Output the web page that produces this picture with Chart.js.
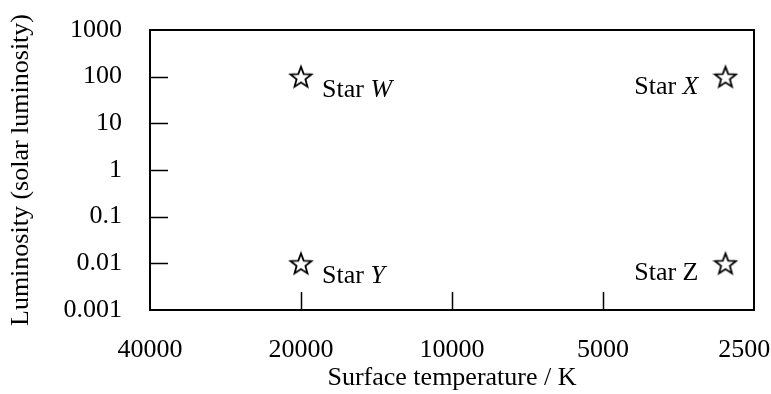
<!DOCTYPE html>
<html lang="en">
<head>
  <meta charset="UTF-8">
  <title>Luminosity vs surface temperature</title>
  <script src="https://cdn.jsdelivr.net/npm/chart.js"></script>
  <style>
    html, body { margin: 0; padding: 0; background: #fff; }
    #wrap { width: 771px; height: 394px; }
  </style>
</head>
<body>
  <div id="wrap"><canvas id="hr" width="771" height="394"></canvas></div>

  <script>
    const starNames = ['W', 'X', 'Y', 'Z'];
    const starItalic = [true, true, true, false];
    const starTemps = [20000, 2850, 20000, 2850];
    const starLums = [100, 100, 0.01, 0.01];

    const tempTicks = [40000, 20000, 10000, 5000, 2500];
    const tempTickLabels = ['40000', '20000', '10000', '5000', '2500'];
    const lumTicks = [0.001, 0.01, 0.1, 1, 10, 100, 1000];
    const lumTickLabels = ['0.001', '0.01', '0.1', '1', '10', '100', '1000'];

    const FONT = "'Liberation Serif', 'Times New Roman', serif";
    const FONT_SIZE = 26;

    // outlined five-pointed star used as the point style
    function starImage(r) {
      const c = document.createElement('canvas');
      const s = Math.ceil(r * 2 + 4);
      c.width = s;
      c.height = s;
      const g = c.getContext('2d');
      const cx = s / 2, cy = s / 2 + r * 0.1;
      g.beginPath();
      for (let i = 0; i < 10; i++) {
        const rad = i % 2 ? r * 0.42 : r;
        const a = -Math.PI / 2 + i * Math.PI / 5;
        g.lineTo(cx + rad * Math.cos(a), cy + rad * Math.sin(a));
      }
      g.closePath();
      g.fillStyle = '#fff';
      g.fill();
      g.lineWidth = 1.8;
      g.strokeStyle = '#000';
      g.stroke();
      return c;
    }

    // box round the plot plus short inward tick marks
    const frame = {
      id: 'frame',
      afterDraw(chart) {
        const { ctx, chartArea: a } = chart;
        const xs = chart.scales.x, ys = chart.scales.y;
        ctx.save();
        ctx.strokeStyle = '#000';
        ctx.lineWidth = 1.5;
        ctx.beginPath();
        tempTicks.slice(1, -1).forEach(v => {
          const px = Math.round(xs.getPixelForValue(v)) + 0.5;
          ctx.moveTo(px, a.bottom);
          ctx.lineTo(px, a.bottom - 18);
        });
        lumTicks.slice(1, -1).forEach(v => {
          const py = Math.round(ys.getPixelForValue(v)) + 0.5;
          ctx.moveTo(a.left, py);
          ctx.lineTo(a.left + 18, py);
        });
        ctx.stroke();
        ctx.lineWidth = 2;
        ctx.strokeRect(a.left, a.top, a.right - a.left, a.bottom - a.top);
        ctx.restore();
      }
    };

    // "Star W" etc. next to each marker, letter in italics
    const starLabels = {
      id: 'starLabels',
      afterDatasetsDraw(chart) {
        const { ctx, chartArea } = chart;
        const mid = (chartArea.left + chartArea.right) / 2;
        const upright = FONT_SIZE + 'px ' + FONT;
        const italic = 'italic ' + FONT_SIZE + 'px ' + FONT;
        chart.getDatasetMeta(0).data.forEach((pt, i) => {
          ctx.save();
          ctx.fillStyle = '#000';
          ctx.textBaseline = 'alphabetic';
          ctx.textAlign = 'left';
          ctx.font = upright;
          const w1 = ctx.measureText('Star ').width;
          const letterFont = starItalic[i] ? italic : upright;
          ctx.font = letterFont;
          const w2 = ctx.measureText(starNames[i]).width;
          const onLeft = pt.x > mid;
          const x0 = onLeft ? pt.x - 27 - (w1 + w2) : pt.x + 21;
          const y0 = pt.y + (onLeft ? 17 : 20);
          ctx.font = upright;
          ctx.fillText('Star ', x0, y0);
          ctx.font = letterFont;
          ctx.fillText(starNames[i], x0 + w1, y0);
          ctx.restore();
        });
      }
    };

    const tickFont = { family: FONT, size: FONT_SIZE };

    new Chart(document.getElementById('hr'), {
      type: 'scatter',
      data: {
        datasets: [{
          data: starTemps.map((t, i) => ({ x: t, y: starLums[i] })),
          pointStyle: starImage(11),
          pointRadius: 11,
          pointHoverRadius: 11
        }]
      },
      options: {
        responsive: false,
        animation: false,
        layout: { padding: { top: 30, right: 17, left: 0, bottom: 0 } },
        plugins: { legend: { display: false }, tooltip: { enabled: false } },
        scales: {
          x: {
            type: 'logarithmic',
            reverse: true,
            min: 2500,
            max: 40000,
            afterBuildTicks: s => { s.ticks = tempTicks.map(v => ({ value: v })); },
            afterFit: s => { s.height = 84; s.paddingLeft = 0; s.paddingRight = 0; },
            grid: { display: false },
            border: { display: false },
            ticks: {
              color: '#000',
              font: tickFont,
              padding: 17,
              maxRotation: 0,
              autoSkip: false,
              // last label is nudged left so it stays inside the canvas
              callback: (v, i) => i === tempTickLabels.length - 1 ? tempTickLabels[i] + '   ' : tempTickLabels[i]
            },
            title: {
              display: true,
              text: 'Surface temperature / K',
              color: '#000',
              font: tickFont,
              padding: 0
            }
          },
          y: {
            type: 'logarithmic',
            min: 0.001,
            max: 1000,
            afterBuildTicks: s => { s.ticks = lumTicks.map(v => ({ value: v })); },
            afterFit: s => { s.width = 150; s.paddingTop = 0; s.paddingBottom = 0; },
            grid: { display: false },
            border: { display: false },
            ticks: {
              color: '#000',
              font: tickFont,
              padding: 20,
              autoSkip: false,
              callback: (v, i) => lumTickLabels[i]
            },
            title: {
              display: true,
              text: 'Luminosity (solar luminosity)',
              color: '#000',
              font: tickFont,
              padding: { top: 6, bottom: 0 }
            }
          }
        }
      },
      plugins: [frame, starLabels]
    });
  </script>
</body>
</html>
